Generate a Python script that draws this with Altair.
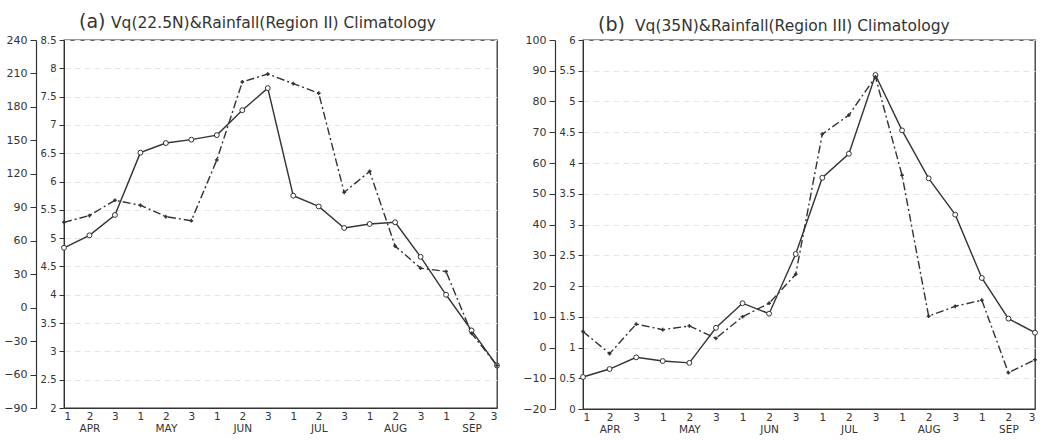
import altair as alt
import pandas as pd

# ---------------- data ----------------
dekads = ["1", "2", "3"]
months = ["APR", "MAY", "JUN", "JUL", "AUG", "SEP"]
idx = list(range(18))

# Panel (a): solid line read on inner axis (2 .. 8.5), dash-dot on outer axis (-90 .. 240)
a_solid = [4.83, 5.05, 5.41, 6.51, 6.68, 6.74, 6.82, 7.26, 7.65, 5.75, 5.56, 5.18,
           5.25, 5.28, 4.67, 4.00, 3.37, 2.75]
a_dash = [76.5, 82.6, 96.3, 91.8, 81.6, 78.0, 132.4, 202.4, 209.5, 200.9, 192.3, 103.4,
          122.2, 55.2, 35.4, 32.4, -23.0, -51.9]

# Panel (b): solid line read on inner axis (0 .. 6), dash-dot on outer axis (-20 .. 100)
b_solid = [0.52, 0.65, 0.84, 0.78, 0.75, 1.32, 1.72, 1.55, 2.52, 3.76, 4.15, 5.43,
           4.53, 3.75, 3.16, 2.13, 1.47, 1.24]
b_dash = [5.2, -2.0, 7.6, 5.8, 7.0, 3.0, 10.0, 14.4, 23.8, 69.4, 75.6, 88.0,
          56.0, 10.2, 13.4, 15.4, -8.2, -4.0]

a_inner_ticks = [2 + 0.5 * k for k in range(14)]
a_outer_ticks = [-90 + 30 * k for k in range(12)]
b_inner_ticks = [0.5 * k for k in range(13)]
b_outer_ticks = [-20 + 10 * k for k in range(13)]

a_tag, a_title = "(a)", "Vq(22.5N)&Rainfall(Region  II)  Climatology"
b_tag, b_title = "(b)", "Vq(35N)&Rainfall(Region  III)  Climatology"

C = "#333333"
FONT = "DejaVu Sans"

month_js = "[" + ",".join("'%s'" % m for m in months) + "]"
dek_js = "[" + ",".join("'%s'" % d for d in dekads) + "]"
x_label_expr = (
    "[" + dek_js + "[datum.value % 3], datum.value % 3 == 1 ? "
    + month_js + "[floor(datum.value / 3)] : '']"
)


def panel(solid, dash, inner_dom, inner_ticks, outer_dom, outer_ticks, w, h,
          tag, title, tag_x, title_x, title_y):
    df = pd.DataFrame({"i": idx, "solid": solid, "dash": dash})
    x = alt.X(
        "i:Q",
        scale=alt.Scale(domain=[0, 17], nice=False, zero=False),
        axis=alt.Axis(values=idx, labelExpr=x_label_expr, title=None, grid=False,
                      ticks=False, labelPadding=3, labelLineHeight=12,
                      labelFontSize=10.5, labelAngle=0),
    )
    solid_layer = alt.Chart(df).mark_line(
        color=C, strokeWidth=1.4,
        point=alt.OverlayMarkDef(shape="circle", size=24, filled=False,
                                 fill="white", stroke=C, strokeWidth=1),
    ).encode(
        x=x,
        y=alt.Y("solid:Q",
                scale=alt.Scale(domain=inner_dom, nice=False, zero=False),
                axis=alt.Axis(orient="left", values=inner_ticks, format=".1~f",
                              title=None, grid=True, gridColor="#e6e6e6",
                              gridDash=[6, 4], gridWidth=1, tickSize=5,
                              labelPadding=3, labelFontSize=10)),
    )
    dash_layer = alt.Chart(df).mark_line(
        color=C, strokeWidth=1.4, strokeDash=[8, 3, 2, 3],
        point=alt.OverlayMarkDef(shape="cross", size=14, filled=True, color=C),
    ).encode(
        x=x,
        y=alt.Y("dash:Q",
                scale=alt.Scale(domain=outer_dom, nice=False, zero=False),
                axis=alt.Axis(orient="left", offset=28, values=outer_ticks,
                              title=None, grid=False, tickSize=6, labelPadding=3,
                              labelFontSize=11, domainWidth=1.2)),
    )
    tag_layer = alt.Chart(pd.DataFrame({"t": [tag]})).mark_text(
        align="left", baseline="alphabetic", fontSize=19, font=FONT, color=C
    ).encode(x=alt.value(tag_x), y=alt.value(title_y), text="t:N")
    title_layer = alt.Chart(pd.DataFrame({"t": [title]})).mark_text(
        align="left", baseline="alphabetic", fontSize=15.5, font=FONT, color=C
    ).encode(x=alt.value(title_x), y=alt.value(title_y), text="t:N")
    return alt.layer(solid_layer, dash_layer, tag_layer, title_layer).resolve_scale(
        y="independent"
    ).properties(width=w, height=h)


pa = panel(a_solid, a_dash, [2, 8.5], a_inner_ticks, [-90, 240], a_outer_ticks,
           433, 368, a_tag, a_title, 15, 47, -12)
pb = panel(b_solid, b_dash, [0, 6], b_inner_ticks, [-20, 100], b_outer_ticks,
           452, 369, b_tag, b_title, 15, 52, -9)

chart = alt.hconcat(pa, pb, spacing=19).configure_view(
    stroke=C, strokeWidth=1.3
).configure_axis(
    labelFont=FONT, labelColor=C, domainColor=C, tickColor=C
).properties(
    padding={"left": 3, "top": 12, "right": 5, "bottom": 5}
)

chart.save("out.html", embed_options={"renderer": "svg", "actions": False})
